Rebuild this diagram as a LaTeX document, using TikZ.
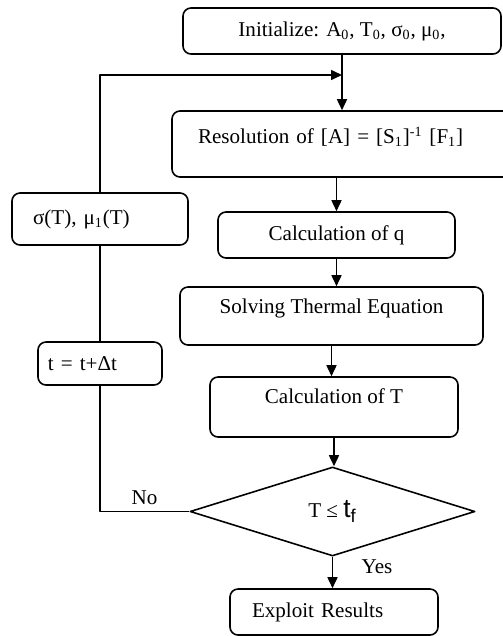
\documentclass[tikz,border=0pt]{standalone}
\usepackage{fontspec}
\setmainfont{Liberation Serif}
\newfontfamily\sansfont{Liberation Sans}
\usetikzlibrary{arrows.meta,shapes.geometric}
\newcommand{\pxu}{0.02cm}

\begin{document}
\begin{tikzpicture}[x=0.02cm,y=-0.02cm,>={Triangle[length=0.22cm,width=0.2cm]},line join=round]

% Box and text styles
\tikzset{
  stepbox/.style={draw,line width=0.9pt,rounded corners=0.16cm,inner sep=0pt,font=\fontsize{12}{14}\selectfont},
  testbox/.style={draw,diamond,line width=0.9pt,inner sep=0pt,font=\fontsize{12}{14}\selectfont},
  flow/.style={line width=0.9pt},
  flowlabel/.style={font=\fontsize{12}{14}\selectfont}
}

\useasboundingbox (0,0) rectangle (503,636);
\clip (0,0) rectangle (503,636);

% Main column of steps
\node[stepbox,minimum width=318*\pxu,minimum height=46*\pxu] (init) at (342,31)
  {Initialize: A\textsubscript{0}, T\textsubscript{0}, σ\textsubscript{0}, μ\textsubscript{0},};
\node[stepbox,minimum height=66*\pxu,inner xsep=26*\pxu,text width=306*\pxu,align=left,text depth=10pt] (resol) at (351,144)
  {Resolution of [A] = [S\textsubscript{1}]\textsuperscript{-1} [F\textsubscript{1}]};
\node[stepbox,minimum width=237*\pxu,minimum height=46*\pxu] (calcq) at (336.5,235) {Calculation of q};
\node[stepbox,minimum width=303*\pxu,minimum height=58*\pxu,text depth=11pt] (solve) at (331.5,316) {Solving Thermal Equation};
\node[stepbox,minimum width=248*\pxu,minimum height=60*\pxu,text depth=13pt] (calcT) at (334,407) {Calculation of T};

% Test on the time
\node[testbox,minimum width=285*\pxu,minimum height=89*\pxu] (dec) at (332.5,511.5)
  {T ≤ {\sansfont\fontsize{15}{17}\selectfont t\textsubscript{f}}};

\node[stepbox,minimum height=46*\pxu,inner xsep=22*\pxu,text width=164*\pxu,align=left] (exploit) at (334,612) {Exploit Results};

% Boxes on the way back
\node[stepbox,minimum height=52*\pxu,inner xsep=21*\pxu,text width=134*\pxu,align=left] (sigma) at (100,219)
  {σ(T), μ\textsubscript{1}(T)};
\node[stepbox,minimum height=43*\pxu,inner xsep=10*\pxu,text width=104*\pxu,align=left] (tbox) at (100,363.5) {t = t+Δt};

\coordinate (join) at (342,75);

% Arrows down the main column
\draw[flow,->] (init.south) -- (init.south |- resol.north);
\draw[flow,->] (calcq.north |- resol.south) -- (calcq.north);
\draw[flow,->] (calcq.south) -- (calcq.south |- solve.north);
\draw[flow,->] (solve.south) -- (solve.south |- calcT.north);
\draw[flow,->] (calcT.south) -- (calcT.south |- dec.north);
\draw[flow,->] (dec.south) -- node[flowlabel,pos=0.3,right=0.45cm] {Yes} (dec.south |- exploit.north);

% Loop back to the start
\draw[flow] (dec.west) -| node[flowlabel,pos=0.25,above] {No} (tbox.south);
\draw[flow] (tbox.north) -- (sigma.south);
\draw[flow,->] (sigma.north) |- (join);

\end{tikzpicture}
\end{document}
